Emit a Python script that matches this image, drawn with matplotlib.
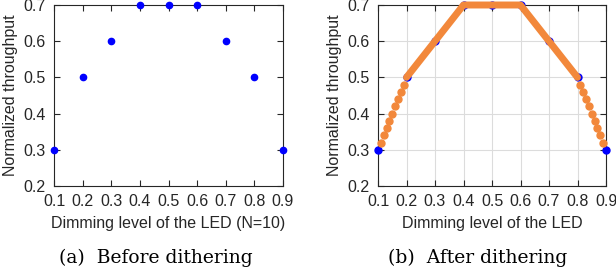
import matplotlib.pyplot as plt

plt.rcParams['font.family'] = ['Liberation Sans', 'DejaVu Sans']

# dimming levels and throughput before dithering (N=10)
dim = [0.1, 0.2, 0.3, 0.4, 0.5, 0.6, 0.7, 0.8, 0.9]
thr = [0.3, 0.5, 0.6, 0.7, 0.7, 0.7, 0.6, 0.5, 0.3]

# after dithering: sparse steps at the ends
low_x = [0.11, 0.12, 0.13, 0.14, 0.15, 0.16, 0.17, 0.18, 0.19]
low_y = [0.32, 0.34, 0.36, 0.38, 0.40, 0.42, 0.44, 0.46, 0.48]
high_x = [0.81, 0.82, 0.83, 0.84, 0.85, 0.86, 0.87, 0.88, 0.89]
high_y = [0.48, 0.46, 0.44, 0.42, 0.40, 0.38, 0.36, 0.34, 0.32]
# dense part in the middle (continuous band of points)
mid_x = [0.2, 0.4, 0.6, 0.8]
mid_y = [0.5, 0.7, 0.7, 0.5]

ticks_x = [0.1, 0.2, 0.3, 0.4, 0.5, 0.6, 0.7, 0.8, 0.9]
ticks_y = [0.2, 0.3, 0.4, 0.5, 0.6, 0.7]

blue = '#0000ff'
orange = '#f2883b'
txt = '#262626'
fs = 11.5

fig = plt.figure(figsize=(6.16, 2.75), dpi=100)
ax1 = fig.add_axes([54/616, 89/275, 229/616, 181/275])
ax2 = fig.add_axes([378/616, 89/275, 228/616, 181/275])

for ax in (ax1, ax2):
    ax.set_xlim(0.1, 0.9)
    ax.set_ylim(0.2, 0.7)
    ax.set_xticks(ticks_x)
    ax.set_yticks(ticks_y)
    ax.set_xticklabels([f'{v:.1f}' for v in ticks_x])
    ax.set_yticklabels([f'{v:.1f}' for v in ticks_y])
    ax.tick_params(direction='in', top=True, right=True, length=4, width=0.8,
                   labelsize=fs, colors=txt, pad=6)
    for s in ax.spines.values():
        s.set_color(txt)
        s.set_linewidth(0.8)
    ax.set_ylabel('Normalized throughput', fontsize=fs, color=txt, labelpad=4)

ax1.plot(dim, thr, 'o', color=blue, ms=4.5, clip_on=False, zorder=3)
ax1.set_xlabel('Dimming level of the LED (N=10)', fontsize=fs, color=txt, labelpad=5)

ax2.grid(True, color='#dcdcdc', linewidth=0.8)
ax2.set_axisbelow(True)
ax2.plot(dim, thr, 'o', color=blue, ms=5, clip_on=False, zorder=3)
ax2.plot(low_x, low_y, 'o', color=orange, ms=5, clip_on=False, zorder=4)
ax2.plot(high_x, high_y, 'o', color=orange, ms=5, clip_on=False, zorder=4)
ax2.plot(mid_x, mid_y, '-', color=orange, lw=5, solid_capstyle='round',
         solid_joinstyle='round', clip_on=False, zorder=4)
ax2.set_xlabel('Dimming level of the LED', fontsize=fs, color=txt, labelpad=5)

fig.text(156/616, 17/275, '(a)  Before dithering', ha='center', va='center',
         fontsize=13.5, family=['DejaVu Serif'])
fig.text(478/616, 17/275, '(b)  After dithering', ha='center', va='center',
         fontsize=13.5, family=['DejaVu Serif'])

fig.savefig('out.png', dpi=100)
